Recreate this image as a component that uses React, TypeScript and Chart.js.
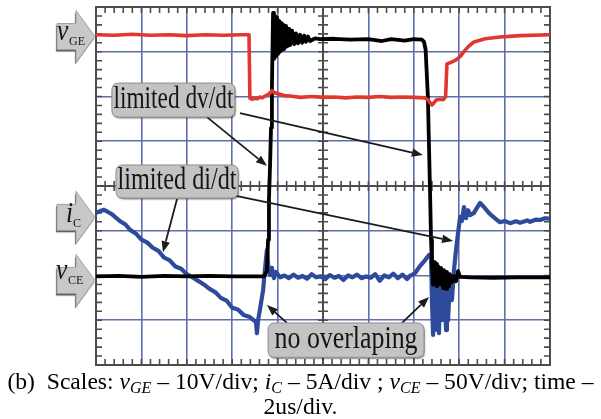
import React, { useEffect, useRef } from 'react';
import { Chart, registerables } from 'chart.js';

Chart.register(...registerables);

type P = [number, number];

// Time in µs (2 µs/div, 10 div), level in screen divisions (0 = centre line, ±4 div)
const vgeTrace: P[] = [
  [0, 3.38], [0.8, 3.37], [1.6, 3.39], [2.4, 3.37], [3.2, 3.38], [4.0, 3.36], [4.8, 3.38], [5.6, 3.37],
  [6.4, 3.38], [6.74, 3.38], [6.78, 1.96], [6.9, 1.94], [7.0, 1.96], [7.11, 1.95], [7.22, 1.99], [7.33, 1.97],
  [7.44, 2.01], [7.58, 2.04], [7.67, 2.08], [7.75, 2.13], [7.84, 2.09], [8.02, 2.06], [8.3, 2.02], [8.55, 2.01],
  [9.0, 1.98], [9.5, 2.0], [10.0, 1.98], [10.5, 1.99], [11.0, 1.97], [11.5, 1.99], [12.0, 1.98], [12.5, 2.0],
  [13.0, 1.98], [13.5, 1.99], [14.0, 1.98], [14.49, 1.97], [14.63, 1.92], [14.8, 1.81], [14.89, 1.86],
  [14.98, 1.92], [15.15, 1.94], [15.3, 1.93], [15.4, 1.99], [15.46, 2.73], [15.68, 2.77], [15.86, 2.82],
  [16.04, 2.89], [16.17, 2.98], [16.39, 3.11], [16.65, 3.22], [17.14, 3.29], [17.8, 3.33], [18.68, 3.36], [20, 3.38],
];

const vceLowBefore: P[] = [
  [0, -2.02], [1.0, -2.01], [2.0, -2.03], [3.0, -2.01], [4.0, -2.02], [5.0, -2.01], [6.0, -2.02], [7.0, -2.02],
  [7.4, -2.02], [7.53, -1.9], [7.58, -1.2], [7.62, -0.3], [7.67, 0.5], [7.71, 1.3], [7.75, 2.2],
];
const vceRingHigh: P[] = [
  [7.8, 3.87], [7.84, 2.84], [7.89, 3.8], [7.93, 2.89], [7.98, 3.76], [8.02, 2.95], [8.07, 3.69], [8.11, 3.0],
  [8.15, 3.65], [8.2, 3.04], [8.24, 3.61], [8.29, 3.06], [8.33, 3.58], [8.37, 3.11], [8.42, 3.53], [8.46, 3.13],
  [8.51, 3.51], [8.55, 3.15], [8.64, 3.47], [8.73, 3.17], [8.81, 3.41], [8.9, 3.19], [8.99, 3.38], [9.08, 3.2],
  [9.17, 3.36], [9.25, 3.22], [9.34, 3.34], [9.43, 3.24],
];
const vceHigh: P[] = [
  [9.65, 3.3], [9.87, 3.28], [10.5, 3.29], [11.2, 3.27], [12.0, 3.28], [12.6, 3.24], [13.0, 3.28], [13.6, 3.25],
  [14.0, 3.28], [14.36, 3.27], [14.45, 3.22], [14.52, 3.05], [14.62, 2.0], [14.71, 0.0], [14.76, -1.2], [14.8, -1.77],
];
const vceRingLow: P[] = [
  [14.85, -2.21], [14.89, -1.7], [14.93, -2.17], [14.98, -1.74], [15.02, -2.24], [15.07, -1.79], [15.15, -2.19],
  [15.2, -1.83], [15.29, -2.28], [15.33, -1.88], [15.42, -2.3], [15.46, -1.92], [15.55, -2.24], [15.59, -1.97],
  [15.68, -2.15], [15.77, -2.01], [15.86, -2.13], [15.95, -1.9], [16.04, -2.03],
];
const vceLowAfter: P[] = [[16.5, -2.04], [17.5, -2.05], [18.5, -2.04], [19.5, -2.04], [20, -2.04]];

const icDecline: P[] = [
  [0, -0.6], [0.18, -0.56], [0.35, -0.53], [0.53, -0.58], [0.7, -0.63], [0.9, -0.72], [1.1, -0.8], [1.3, -0.86],
  [1.5, -0.98], [1.75, -1.06], [2.0, -1.2], [2.25, -1.26], [2.5, -1.38], [2.75, -1.45], [3.0, -1.6], [3.25, -1.66],
  [3.5, -1.8], [3.75, -1.85], [4.0, -1.97], [4.25, -2.04], [4.5, -2.12], [4.75, -2.2], [5.0, -2.3], [5.25, -2.37],
  [5.5, -2.5], [5.75, -2.56], [6.0, -2.72], [6.25, -2.76], [6.5, -2.88], [6.75, -2.92], [7.0, -3.02], [7.05, -3.05],
];
const icTurnOn: P[] = [
  [7.09, -3.29], [7.14, -3.0], [7.22, -2.77], [7.36, -2.33], [7.44, -1.88], [7.53, -1.43], [7.58, -1.75],
  [7.67, -1.99], [7.75, -1.83], [7.84, -2.06], [7.93, -1.92], [8.11, -2.04],
];
const icFlat: P[] = [
  [8.3, -2.0], [8.5, -2.06], [8.7, -1.98], [8.9, -2.05], [9.1, -2.01], [9.3, -2.07], [9.5, -1.97], [9.7, -2.04],
  [9.9, -2.02], [10.1, -2.08], [10.3, -1.99], [10.5, -2.05], [10.7, -2.01], [10.9, -2.1], [11.1, -2.0], [11.3, -2.04],
  [11.5, -1.98], [11.7, -2.06], [11.9, -2.02], [12.1, -2.05], [12.3, -1.97], [12.5, -2.12], [12.7, -2.0], [12.9, -2.04],
  [13.1, -1.96], [13.3, -2.06], [13.5, -1.98], [13.7, -2.08], [13.83, -2.01], [14.05, -1.95], [14.27, -1.79],
  [14.49, -1.66], [14.67, -1.54], [14.76, -1.61],
];
const icTurnOff: P[] = [
  [14.8, -2.55], [14.85, -3.33], [14.89, -2.1], [14.93, -3.22], [14.98, -1.99], [15.02, -3.11], [15.07, -2.21],
  [15.11, -3.29], [15.15, -2.33], [15.2, -3.0], [15.24, -1.99], [15.29, -2.77], [15.33, -2.21], [15.37, -2.55],
  [15.42, -3.22], [15.46, -2.33], [15.51, -3.0], [15.59, -2.1], [15.68, -2.55], [15.77, -1.88], [15.86, -1.43],
  [15.95, -1.05], [16.04, -0.69], [16.12, -0.78], [16.21, -0.47], [16.3, -0.72], [16.39, -0.54], [16.48, -0.65],
  [16.65, -0.6], [16.78, -0.49], [16.92, -0.38], [17.09, -0.47], [17.27, -0.58], [17.45, -0.67], [17.62, -0.74],
  [17.8, -0.81], [18.0, -0.78], [18.24, -0.83], [18.5, -0.79], [18.68, -0.82], [19.0, -0.77], [19.12, -0.8],
  [19.4, -0.75], [19.56, -0.76], [19.78, -0.72], [20, -0.73],
];

// Channel markers on the left (level in div)
const markerLevels = [3.34, -0.7, -2.11];
const markerMain = ['v', 'i', 'v'];
const markerSub = ['GE', 'C', 'CE'];

// Callouts: box corners in (µs, div)
const calloutTexts = ['limited dv/dt', 'limited di/dt', 'no overlaping'];
const calloutBoxes = [
  [0.7, 2.3, 6.12, 1.54],
  [0.88, 0.47, 6.26, -0.27],
  [7.58, -3.06, 14.45, -3.83],
];
const calloutTextWidths = [120, 119, 143];

// Arrows: from (µs, div) to (µs, div)
const arrowLines = [
  [4.89, 1.54, 7.53, 0.45],
  [6.34, 1.63, 14.4, 0.69],
  [3.57, -0.29, 2.95, -1.48],
  [6.17, -0.22, 15.73, -1.23],
  [8.41, -3.06, 7.53, -2.66],
  [13.48, -3.06, 14.67, -2.48],
];

const toPts = (a: P[]) => a.map(([x, y]) => ({ x, y }));

const FRAME = '#4c4c4c';
const GRID_BLUE = '#5f6fae';

function roundRect(ctx: CanvasRenderingContext2D, x: number, y: number, w: number, h: number, r: number) {
  ctx.beginPath();
  ctx.moveTo(x + r, y);
  ctx.lineTo(x + w - r, y);
  ctx.quadraticCurveTo(x + w, y, x + w, y + r);
  ctx.lineTo(x + w, y + h - r);
  ctx.quadraticCurveTo(x + w, y + h, x + w - r, y + h);
  ctx.lineTo(x + r, y + h);
  ctx.quadraticCurveTo(x, y + h, x, y + h - r);
  ctx.lineTo(x, y + r);
  ctx.quadraticCurveTo(x, y, x + r, y);
  ctx.closePath();
}

const scopePlugin = {
  id: 'scopeDecor',
  beforeDatasetsDraw(chart: any) {
    const { ctx, chartArea, scales } = chart;
    const { left, right, top, bottom } = chartArea;
    const xs = scales.x, ys = scales.y;
    const cx = xs.getPixelForValue(10);
    const cy = ys.getPixelForValue(0);
    ctx.save();
    ctx.strokeStyle = FRAME;
    ctx.lineWidth = 2;
    ctx.beginPath();
    ctx.moveTo(cx, top); ctx.lineTo(cx, bottom);
    ctx.moveTo(left, cy); ctx.lineTo(right, cy);
    ctx.stroke();
    ctx.lineWidth = 1.6;
    ctx.beginPath();
    for (let i = 0; i <= 50; i++) {
      const px = xs.getPixelForValue(i * 0.4);
      ctx.moveTo(px, top); ctx.lineTo(px, top + 6);
      ctx.moveTo(px, bottom); ctx.lineTo(px, bottom - 6);
      ctx.moveTo(px, cy - 5); ctx.lineTo(px, cy + 5);
    }
    for (let i = 0; i <= 40; i++) {
      const py = ys.getPixelForValue(-4 + i * 0.2);
      ctx.moveTo(left, py); ctx.lineTo(left + 6, py);
      ctx.moveTo(right, py); ctx.lineTo(right - 6, py);
      ctx.moveTo(cx - 5, py); ctx.lineTo(cx + 5, py);
    }
    ctx.stroke();
    ctx.lineWidth = 2;
    ctx.strokeRect(left, top, right - left, bottom - top);
    ctx.restore();
  },
  afterDatasetsDraw(chart: any) {
    const { ctx, scales } = chart;
    const xs = scales.x, ys = scales.y;
    ctx.save();
    // arrows
    ctx.strokeStyle = '#1c1c1c';
    ctx.fillStyle = '#1c1c1c';
    ctx.lineWidth = 1.8;
    arrowLines.forEach(([t0, v0, t1, v1]) => {
      const x0 = xs.getPixelForValue(t0), y0 = ys.getPixelForValue(v0);
      const x1 = xs.getPixelForValue(t1), y1 = ys.getPixelForValue(v1);
      const ang = Math.atan2(y1 - y0, x1 - x0);
      const hl = 11, hw = 4.2;
      const bx = x1 - hl * Math.cos(ang), by = y1 - hl * Math.sin(ang);
      ctx.beginPath();
      ctx.moveTo(x0, y0); ctx.lineTo(bx, by);
      ctx.stroke();
      ctx.beginPath();
      ctx.moveTo(x1, y1);
      ctx.lineTo(bx + hw * Math.sin(ang), by - hw * Math.cos(ang));
      ctx.lineTo(bx - hw * Math.sin(ang), by + hw * Math.cos(ang));
      ctx.closePath();
      ctx.fill();
    });
    // callout boxes
    calloutBoxes.forEach(([t0, v0, t1, v1], i) => {
      const x0 = xs.getPixelForValue(t0), y0 = ys.getPixelForValue(v0);
      const x1 = xs.getPixelForValue(t1), y1 = ys.getPixelForValue(v1);
      ctx.save();
      ctx.shadowColor = 'rgba(0,0,0,0.45)';
      ctx.shadowOffsetX = 1;
      ctx.shadowOffsetY = 1.5;
      ctx.shadowBlur = 1.5;
      roundRect(ctx, x0, y0, x1 - x0, y1 - y0, 7);
      ctx.fillStyle = '#c3c3c3';
      ctx.fill();
      ctx.restore();
      roundRect(ctx, x0, y0, x1 - x0, y1 - y0, 7);
      ctx.strokeStyle = '#8e8e8e';
      ctx.lineWidth = 1;
      ctx.stroke();
      ctx.font = '31px "Liberation Serif", "Times New Roman", serif';
      const w = ctx.measureText(calloutTexts[i]).width;
      const sx = calloutTextWidths[i] / w;
      ctx.save();
      ctx.translate((x0 + x1) / 2, y1 - 9);
      ctx.scale(sx, 1);
      ctx.fillStyle = '#141414';
      ctx.textAlign = 'center';
      ctx.textBaseline = 'alphabetic';
      ctx.fillText(calloutTexts[i], 0, 0);
      ctx.restore();
    });
    ctx.restore();
  },
  afterDraw(chart: any) {
    const { ctx, scales, chartArea } = chart;
    const ys = scales.y;
    const tipX = chartArea.left - 1;
    const mainDx = [57, 66, 56];
    const mainDy = [3, 5, -1];
    const subDx = [69, 73, 68];
    const subDy = [8, 10, 4];
    ctx.save();
    markerLevels.forEach((lv, i) => {
      const cy = ys.getPixelForValue(lv);
      const drawShape = () => {
        ctx.beginPath();
        ctx.moveTo(57, cy - 13);
        ctx.lineTo(76, cy - 13);
        ctx.lineTo(76, cy - 26);
        ctx.lineTo(tipX, cy);
        ctx.lineTo(76, cy + 26);
        ctx.lineTo(76, cy + 13);
        ctx.lineTo(57, cy + 13);
        ctx.closePath();
      };
      ctx.save();
      ctx.shadowColor = 'rgba(40,40,40,0.8)';
      ctx.shadowOffsetX = -1;
      ctx.shadowOffsetY = 2;
      ctx.shadowBlur = 1;
      drawShape();
      ctx.fillStyle = '#c8c8c8';
      ctx.fill();
      ctx.restore();
      drawShape();
      ctx.strokeStyle = '#a2a2a2';
      ctx.lineWidth = 1;
      ctx.stroke();
      ctx.fillStyle = '#151515';
      ctx.textBaseline = 'alphabetic';
      ctx.textAlign = 'left';
      ctx.save();
      ctx.translate(mainDx[i], cy + mainDy[i]);
      ctx.scale(0.85, 1);
      ctx.font = 'italic 30px "Liberation Serif", "Times New Roman", serif';
      ctx.fillText(markerMain[i], 0, 0);
      ctx.restore();
      ctx.font = '12px "Liberation Serif", "Times New Roman", serif';
      ctx.fillText(markerSub[i], subDx[i], cy + subDy[i]);
    });
    ctx.restore();
  },
};

export default function App() {
  const ref = useRef<HTMLCanvasElement | null>(null);
  useEffect(() => {
    if (!ref.current) return;
    const common = { pointRadius: 0, borderJoinStyle: 'round', borderCapStyle: 'round', fill: false } as any;
    const chart = new Chart(ref.current, {
      type: 'line',
      data: {
        datasets: [
          { label: 'vGE', data: toPts(vgeTrace), borderColor: '#e3362f', borderWidth: 3.6, order: 1, ...common },
          {
            label: 'vCE',
            data: toPts([...vceLowBefore, ...vceRingHigh, ...vceHigh, ...vceRingLow, ...vceLowAfter]),
            borderColor: '#000000', borderWidth: 3.8, order: 2, ...common,
          },
          {
            label: 'iC',
            data: toPts([...icDecline, ...icTurnOn, ...icFlat, ...icTurnOff]),
            borderColor: '#2e4a9b', borderWidth: 4.2, order: 3, ...common,
          },
        ],
      },
      options: {
        responsive: false,
        animation: false,
        devicePixelRatio: 1,
        events: [],
        layout: { padding: { left: 96, top: 7, right: 51, bottom: 54 } },
        plugins: { legend: { display: false }, tooltip: { enabled: false } },
        elements: { line: { tension: 0 } },
        scales: {
          x: {
            type: 'linear', min: 0, max: 20,
            ticks: { display: false, stepSize: 2 },
            grid: { color: GRID_BLUE, lineWidth: 1.6, drawTicks: false },
            border: { display: false },
          },
          y: {
            type: 'linear', min: -4, max: 4,
            ticks: { display: false, stepSize: 1 },
            grid: { color: GRID_BLUE, lineWidth: 1.6, drawTicks: false },
            border: { display: false },
          },
        },
      } as any,
      plugins: [scopePlugin as any],
    });
    return () => chart.destroy();
  }, []);

  const subStyle: React.CSSProperties = { fontSize: '0.68em', verticalAlign: '-0.28em', lineHeight: 0, fontStyle: 'italic' };
  return (
    <div style={{ position: 'absolute', left: 0, top: 0, width: 601, height: 419, background: '#fff', overflow: 'hidden' }}>
      <canvas ref={ref} width={601} height={419} style={{ position: 'absolute', left: 0, top: 0 }} />
      <div
        style={{
          position: 'absolute', left: 0, top: 369, width: 601, textAlign: 'center',
          fontFamily: '"Liberation Serif", "Times New Roman", serif', fontSize: 23.6, lineHeight: '25px',
          color: '#000', whiteSpace: 'nowrap',
        }}
      >
        <div>
          (b)&nbsp;&nbsp;Scales: <i>v</i><span style={subStyle}>GE</span> – 10V/div; <i>i</i><span style={subStyle}>C</span> – 5A/div ; <i>v</i><span style={subStyle}>CE</span> – 50V/div; time –
        </div>
        <div>2us/div.</div>
      </div>
    </div>
  );
}
